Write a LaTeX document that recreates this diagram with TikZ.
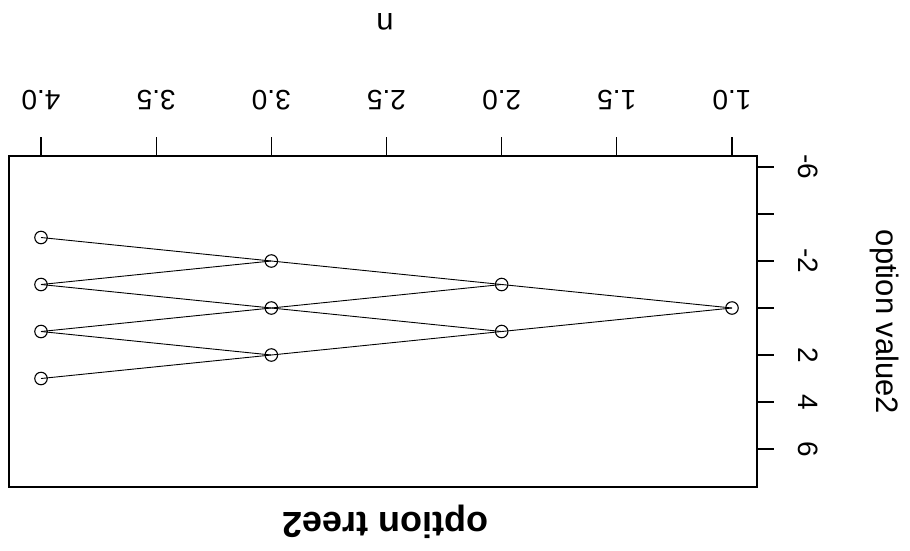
\documentclass[tikz,border=0pt]{standalone}
\usepackage{fontspec}
\setmainfont{Liberation Sans}
\begin{document}
\begin{tikzpicture}[x=1pt,y=-1pt,
  pt/.style={circle,draw,line width=1.1pt,inner sep=0pt,minimum size=12.5pt},
  edge/.style={line width=0.9pt},
  axisline/.style={line width=1.2pt},
  ticklab/.style={font=\fontsize{28}{30}\selectfont,inner sep=0pt},
  axlab/.style={font=\fontsize{31}{33}\selectfont,inner sep=0pt},
  titlelab/.style={font=\fontsize{36}{38}\selectfont\bfseries,inner sep=0pt}]
\useasboundingbox (0,0) rectangle (910,550);
% pixel mapping of the data: n -> x, value -> y
\def\nx#1{732-(#1-1)*230.33}
\def\vy#1{308+23.5*(#1)}
% plot frame
\draw[axisline] (9,156) rectangle (757,487);
% n axis ticks and labels
\foreach \n/\lab in {1/1.0,1.5/1.5,2/2.0,2.5/2.5,3/3.0,3.5/3.5,4/4.0}{
  \draw[axisline] ({\nx{\n}},156) -- ({\nx{\n}},137);
  \node[ticklab,rotate=180] (nl\lab) at ({\nx{\n}},100) {\lab};
}
\node[axlab,rotate=180] (nlabel) at (385,22) {n};
% value axis ticks and labels
\foreach \v in {-6,-4,-2,0,2,4,6}{
  \draw[axisline] (757,{\vy{\v}}) -- (774,{\vy{\v}});
}
\foreach \v in {-6,-2,2,4,6}{
  \node[ticklab,rotate=-90] (vl\v) at (808,{\vy{\v}}) {\v};
}
\node[axlab,rotate=-90] (vlabel) at (885,322) {option value2};
% title
\node[titlelab,rotate=180] (title) at (385,522) {option tree2};
% tree nodes
\node[pt] (a0) at ({\nx{1}},{\vy{0}}) {};
\node[pt] (bm1) at ({\nx{2}},{\vy{-1}}) {};
\node[pt] (bp1) at ({\nx{2}},{\vy{1}}) {};
\node[pt] (cm2) at ({\nx{3}},{\vy{-2}}) {};
\node[pt] (c0) at ({\nx{3}},{\vy{0}}) {};
\node[pt] (cp2) at ({\nx{3}},{\vy{2}}) {};
\node[pt] (dm3) at ({\nx{4}},{\vy{-3}}) {};
\node[pt] (dm1) at ({\nx{4}},{\vy{-1}}) {};
\node[pt] (dp1) at ({\nx{4}},{\vy{1}}) {};
\node[pt] (dp3) at ({\nx{4}},{\vy{3}}) {};
% branches, drawn centre to centre
\foreach \p/\q in {a0/bm1,a0/bp1,bm1/cm2,bm1/c0,bp1/c0,bp1/cp2,
                   cm2/dm3,cm2/dm1,c0/dm1,c0/dp1,cp2/dp1,cp2/dp3}{
  \draw[edge] (\p.center) -- (\q.center);
}
\end{tikzpicture}
\end{document}
